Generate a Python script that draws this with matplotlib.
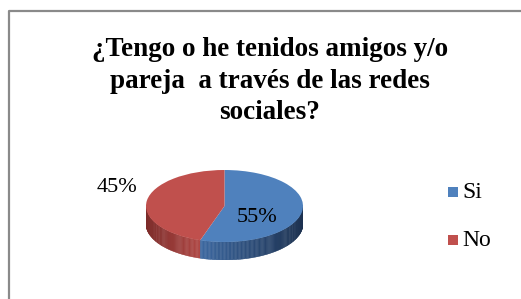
import numpy as np
import matplotlib
matplotlib.use('Agg')
import matplotlib.pyplot as plt
from matplotlib.collections import PolyCollection

# Data
categories = ['Si', 'No']
values = [55, 45]
colors = ['#4f81bd', '#c0504d']
side_light = ['#3f6ca6', '#b04845']
side_dark = ['#1c3150', '#7c2b29']
title = '¿Tengo o he tenidos amigos y/o\npareja  a través de las redes\nsociales?'

W, H = 521, 299
fig = plt.figure(figsize=(W / 100, H / 100), dpi=100)

# background / frame
bg = fig.add_axes([0, 0, 1, 1])
bg.set_xlim(0, W)
bg.set_ylim(H, 0)
bg.axis('off')
bg.plot([9, 9, W], [H, 11, 11], color='#8a8a8a', lw=1.6, solid_capstyle='butt')

bg.text(270, 81, title, ha='center', va='center', fontsize=19.5,
        family='Liberation Serif', fontweight='bold', linespacing=1.35)

# pie geometry (pixels)
cx, cy, rx, ry, depth = 224.5, 206, 78.5, 36, 18
d = depth / ry
ax = fig.add_axes([(cx - rx) / W, (H - cy - ry - depth) / H, 2 * rx / W, (2 * ry + depth) / H])
ax.axis('off')

# side band
fracs = np.array(values) / sum(values)
polys, pcols = [], []
th = np.linspace(180, 360, 181)
for a0, a1 in zip(th[:-1], th[1:]):
    mid = (a0 + a1) / 2
    m = ((90 - mid) % 360)
    idx = 0 if m < 360 * fracs[0] else 1
    t0, t1 = np.radians(a0), np.radians(a1)
    x0, x1 = np.cos(t0), np.cos(t1)
    y0, y1 = np.sin(t0), np.sin(t1)
    polys.append([(x0, y0), (x1, y1), (x1, y1 - d), (x0, y0 - d)])
    if idx == 0:
        s = (np.cos(np.radians(mid)) + 0.4) / 1.4
    else:
        s = (-np.cos(np.radians(mid)) - 0.3) / 0.7
    s = min(max(s, 0), 1)
    c0 = np.array(matplotlib.colors.to_rgb(side_light[idx]))
    c1 = np.array(matplotlib.colors.to_rgb(side_dark[idx]))
    pcols.append(c0 * (1 - s) + c1 * s)
ax.add_collection(PolyCollection(polys, facecolors=pcols, edgecolors=pcols, linewidths=0.3))

ax.pie(values, colors=colors, startangle=90, counterclock=False, radius=1,
       wedgeprops=dict(linewidth=0))
ax.set_aspect('auto')
ax.set_xlim(-1, 1)
ax.set_ylim(-1 - d, 1)

# percentage labels (drawn on top of the pie)
ax.text(257, 217, f'{values[0]}%', ha='center', va='center', fontsize=16,
        family='Liberation Serif', transform=bg.transData, clip_on=False)
ax.text(117, 188, f'{values[1]}%', ha='center', va='center', fontsize=16,
        family='Liberation Serif', transform=bg.transData, clip_on=False)

# legend
for i, (lab, col) in enumerate(zip(categories, colors)):
    y = 192 + 48 * i
    bg.add_patch(plt.Rectangle((448, y - 5), 10, 10, facecolor=col, edgecolor='none'))
    bg.text(462, y, lab, ha='left', va='center', fontsize=17, family='Liberation Serif')

fig.savefig('out.png', dpi=100)
